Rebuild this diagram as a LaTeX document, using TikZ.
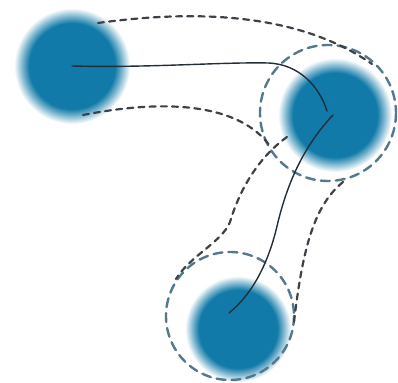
\documentclass[tikz,border=0pt]{standalone}
\usepackage{tikz}
\usetikzlibrary{calc}

% soft-edged blob: solid core, faded rim
\definecolor{blobblue}{RGB}{18,122,168}
\pgfdeclareradialshading{blobshade}{\pgfpoint{0bp}{0bp}}{%
  color(0bp)=(blobblue); color(18.5bp)=(blobblue); color(21.5bp)=(blobblue!55!white);
  color(25bp)=(white); color(50bp)=(white)}

\begin{document}
\begin{tikzpicture}[x=0.5pt, y=-0.5pt, line cap=round, line join=round]

% Colors
\definecolor{ringgrey}{RGB}{84,120,140}
\definecolor{tubegrey}{RGB}{62,66,72}
\definecolor{pathdark}{RGB}{34,46,58}

\tikzset{
  blob/.style={shading=blobshade},
  ring/.style={dashed, dash pattern=on 4.5pt off 3pt, line width=1.2pt, ringgrey},
  tube/.style={dash pattern=on 3pt off 2.6pt, line width=1.1pt, tubegrey},
  track/.style={line width=0.7pt, pathdark}
}

% Frame
\useasboundingbox (0,0) rectangle (398,383);

% Centres
\coordinate (a) at (72,66);
\coordinate (b) at (335,115);
\coordinate (c) at (238,329);
\coordinate (bin) at (327,111);
\coordinate (bout) at (333,115);
\coordinate (cin) at (229,313);

% Blobs
\shade[blob] (a) circle (58);
\shade[blob] (b) circle (57);
\shade[blob] (c) circle (53);

% Dashed rings round the two later blobs
\draw[ring] (328,113) circle (68);
\draw[ring] (230,316) circle (64);

% Tube from first to second blob
\draw[tube] (98,23) .. controls (200,9) and (300,14) .. (372,64);
\draw[tube] (83,115) .. controls (170,98) and (240,105) .. (270,146);

% Tube from second to third blob
\draw[tube] (287,137) .. controls (255,160) and (238,195) .. (230,222)
  .. controls (222,242) and (190,256) .. (176,279);
\draw[tube] (343,182) .. controls (315,205) and (303,245) .. (294,322);

% Track through the blobs
\draw[track] (a) .. controls (150,68) and (220,62) .. (268,63)
  .. controls (300,64) and (320,88) .. (bin);
\draw[track] (bout) .. controls (300,150) and (286,190) .. (278,222)
  .. controls (270,258) and (255,292) .. (cin);

\end{tikzpicture}
\end{document}
